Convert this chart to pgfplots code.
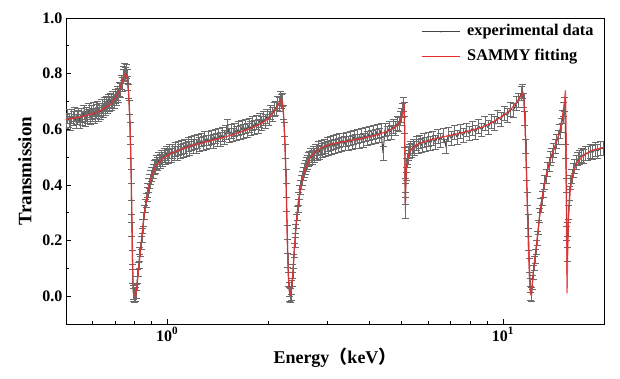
\documentclass[border=0pt]{standalone}
\usepackage{fontspec}
\setmainfont{Liberation Serif}
\newfontfamily\cjk{Noto Sans CJK SC}
\usepackage{pgfplots}
\pgfplotsset{compat=1.18}
\usepackage{pgfplotstable}
\definecolor{fitred}{RGB}{232,45,45}
\definecolor{expgray}{RGB}{68,68,68}

\pgfplotstableread{
E T
0.500 0.628
0.505 0.648
0.510 0.633
0.515 0.622
0.520 0.646
0.525 0.638
0.530 0.655
0.535 0.630
0.540 0.644
0.545 0.652
0.550 0.628
0.555 0.650
0.560 0.641
0.565 0.662
0.570 0.636
0.575 0.655
0.580 0.648
0.585 0.668
0.590 0.642
0.595 0.660
0.600 0.652
0.605 0.672
0.610 0.648
0.615 0.664
0.620 0.676
0.625 0.655
0.630 0.670
0.635 0.662
0.640 0.684
0.645 0.668
0.650 0.690
0.655 0.676
0.660 0.695
0.665 0.682
0.670 0.700
0.675 0.690
0.680 0.705
0.685 0.694
0.690 0.712
0.695 0.702
0.700 0.720
0.705 0.712
0.710 0.730
0.715 0.722
0.720 0.745
0.725 0.740
0.730 0.768
0.735 0.762
0.740 0.790
0.744 0.800
0.748 0.812
0.752 0.798
0.756 0.808
0.760 0.790
0.764 0.765
0.768 0.735
0.772 0.680
0.776 0.600
0.779 0.520
0.782 0.430
0.784 0.320
0.786 0.240
0.788 0.140
0.790 0.070
0.793 0.015
0.797 0.005
0.801 0.002
0.805 0.006
0.809 0.018
0.813 0.045
0.817 0.070
0.821 0.098
0.825 0.125
0.829 0.150
0.833 0.168
0.837 0.192
0.842 0.220
0.847 0.250
0.852 0.278
0.857 0.300
0.862 0.325
0.867 0.345
0.872 0.365
0.877 0.382
0.883 0.398
0.889 0.412
0.895 0.428
0.901 0.438
0.908 0.450
0.915 0.462
0.922 0.468
0.930 0.480
0.938 0.476
0.946 0.492
0.954 0.486
0.962 0.500
0.971 0.492
0.980 0.508
0.989 0.498
0.998 0.514
1.008 0.504
1.018 0.520
1.028 0.508
1.038 0.522
1.049 0.512
1.060 0.528
1.071 0.515
1.082 0.532
1.094 0.520
1.106 0.536
1.118 0.524
1.130 0.540
1.142 0.528
1.155 0.545
1.168 0.532
1.181 0.550
1.194 0.538
1.208 0.552
1.222 0.540
1.236 0.558
1.250 0.545
1.265 0.562
1.280 0.548
1.295 0.566
1.310 0.552
1.326 0.568
1.342 0.555
1.358 0.572
1.374 0.558
1.391 0.575
1.408 0.562
1.425 0.580
1.442 0.565
1.460 0.582
1.478 0.570
1.496 0.588
1.514 0.612
1.533 0.578
1.552 0.592
1.571 0.580
1.590 0.598
1.610 0.585
1.630 0.602
1.650 0.588
1.670 0.606
1.691 0.592
1.712 0.610
1.733 0.596
1.754 0.615
1.776 0.602
1.798 0.620
1.820 0.606
1.843 0.626
1.866 0.612
1.889 0.632
1.912 0.620
1.936 0.640
1.960 0.628
1.984 0.648
2.009 0.640
2.034 0.660
2.059 0.655
2.085 0.672
2.110 0.675
2.135 0.692
2.155 0.690
2.175 0.712
2.190 0.700
2.205 0.706
2.220 0.660
2.235 0.600
2.248 0.520
2.260 0.430
2.270 0.330
2.280 0.230
2.290 0.130
2.300 0.060
2.310 0.025
2.320 0.006
2.330 0.004
2.340 0.012
2.350 0.032
2.360 0.060
2.370 0.088
2.381 0.125
2.392 0.165
2.404 0.200
2.416 0.235
2.428 0.268
2.441 0.298
2.454 0.325
2.468 0.350
2.482 0.372
2.497 0.392
2.512 0.410
2.528 0.425
2.545 0.440
2.562 0.452
2.580 0.462
2.599 0.474
2.618 0.480
2.638 0.492
2.659 0.495
2.680 0.506
2.702 0.500
2.725 0.515
2.749 0.508
2.773 0.522
2.798 0.514
2.824 0.530
2.851 0.518
2.878 0.535
2.906 0.524
2.935 0.540
2.965 0.528
2.995 0.546
3.026 0.532
3.058 0.550
3.091 0.536
3.125 0.554
3.160 0.540
3.195 0.556
3.231 0.542
3.268 0.560
3.306 0.546
3.345 0.562
3.385 0.548
3.426 0.565
3.468 0.550
3.511 0.568
3.555 0.552
3.600 0.572
3.646 0.556
3.693 0.575
3.741 0.558
3.790 0.578
3.840 0.560
3.891 0.582
3.943 0.566
3.996 0.585
4.050 0.570
4.105 0.588
4.161 0.574
4.218 0.592
4.276 0.578
4.335 0.596
4.395 0.515
4.456 0.598
4.518 0.585
4.581 0.602
4.645 0.590
4.710 0.612
4.776 0.602
4.843 0.622
4.900 0.618
4.950 0.640
4.995 0.650
5.030 0.668
5.060 0.690
5.085 0.672
5.100 0.560
5.112 0.400
5.122 0.305
5.133 0.380
5.148 0.440
5.165 0.470
5.185 0.488
5.210 0.500
5.240 0.512
5.275 0.520
5.315 0.530
5.360 0.526
5.410 0.540
5.465 0.532
5.525 0.548
5.590 0.538
5.660 0.555
5.735 0.542
5.815 0.560
5.900 0.546
5.990 0.564
6.085 0.550
6.185 0.568
6.290 0.554
6.400 0.574
6.515 0.560
6.635 0.578
6.760 0.540
6.890 0.582
7.025 0.566
7.165 0.588
7.310 0.572
7.460 0.594
7.615 0.578
7.775 0.598
7.940 0.584
8.110 0.604
8.285 0.590
8.465 0.612
8.650 0.598
8.840 0.620
9.035 0.606
9.235 0.630
9.440 0.620
9.650 0.645
9.865 0.635
10.08 0.658
10.30 0.650
10.52 0.672
10.74 0.668
10.96 0.692
11.15 0.705
11.32 0.728
11.45 0.736
11.55 0.705
11.63 0.640
11.70 0.540
11.76 0.440
11.82 0.350
11.88 0.270
11.94 0.190
12.00 0.110
12.06 0.040
12.12 0.012
12.18 0.008
12.25 0.050
12.32 0.085
12.40 0.118
12.48 0.145
12.57 0.175
12.66 0.208
12.76 0.248
12.86 0.290
12.97 0.328
13.08 0.352
13.20 0.382
13.32 0.408
13.45 0.432
13.58 0.455
13.72 0.475
13.86 0.495
14.00 0.508
14.15 0.525
14.30 0.540
14.46 0.558
14.62 0.572
14.78 0.592
14.94 0.615
15.08 0.645
15.20 0.672
15.30 0.690
15.38 0.520
15.44 0.400
15.50 0.225
15.56 0.150
15.62 0.240
15.70 0.300
15.80 0.370
15.92 0.408
16.05 0.432
16.20 0.452
16.36 0.468
16.54 0.480
16.73 0.494
16.94 0.500
17.16 0.508
17.40 0.504
17.65 0.515
17.92 0.512
18.20 0.522
18.50 0.516
18.82 0.528
19.15 0.522
19.50 0.532
19.90 0.530
}\expdata

\pgfplotstableread{
E T
0.500 0.635
0.530 0.640
0.560 0.646
0.590 0.653
0.620 0.662
0.650 0.675
0.680 0.692
0.700 0.710
0.720 0.738
0.735 0.770
0.745 0.795
0.752 0.800
0.760 0.785
0.768 0.730
0.774 0.650
0.779 0.530
0.783 0.400
0.786 0.280
0.789 0.150
0.792 0.050
0.796 0.005
0.802 0.000
0.808 0.008
0.814 0.040
0.820 0.080
0.828 0.130
0.837 0.185
0.848 0.255
0.862 0.325
0.880 0.390
0.900 0.435
0.930 0.472
0.970 0.495
1.020 0.512
1.100 0.528
1.200 0.543
1.320 0.556
1.450 0.568
1.600 0.584
1.750 0.600
1.900 0.619
2.000 0.638
2.080 0.662
2.140 0.688
2.180 0.705
2.200 0.702
2.220 0.660
2.240 0.570
2.260 0.420
2.275 0.250
2.290 0.110
2.305 0.035
2.320 0.005
2.335 0.005
2.350 0.030
2.370 0.085
2.390 0.160
2.420 0.255
2.460 0.340
2.510 0.405
2.570 0.455
2.660 0.495
2.800 0.525
3.000 0.543
3.300 0.554
3.700 0.564
4.100 0.576
4.500 0.591
4.800 0.610
4.950 0.630
5.040 0.660
5.080 0.680
5.100 0.600
5.120 0.330
5.140 0.420
5.170 0.468
5.220 0.500
5.330 0.528
5.600 0.548
6.000 0.560
6.600 0.572
7.400 0.585
8.000 0.595
8.700 0.608
9.400 0.628
10.00 0.648
10.60 0.674
11.00 0.698
11.30 0.720
11.45 0.730
11.55 0.700
11.65 0.600
11.75 0.450
11.83 0.300
11.92 0.160
12.00 0.060
12.08 0.005
12.15 0.005
12.25 0.055
12.40 0.120
12.55 0.172
12.75 0.245
12.95 0.318
13.20 0.382
13.50 0.442
13.80 0.490
14.25 0.535
14.75 0.590
15.05 0.648
15.25 0.700
15.35 0.740
15.42 0.600
15.47 0.250
15.52 0.010
15.58 0.150
15.68 0.290
15.85 0.375
16.10 0.432
16.55 0.476
17.30 0.505
18.50 0.525
20.00 0.535
}\fitdata

\begin{document}
\begin{tikzpicture}
\begin{axis}[
  xmode=log, log basis x=10,
  scale only axis, width=538bp, height=306bp,
  xmin=0.5, xmax=20, ymin=-0.1, ymax=1.0,
  xtick={1,10}, xticklabels={10\textsuperscript{0},10\textsuperscript{1}},
  minor xtick={0.6,0.7,0.8,0.9,2,3,4,5,6,7,8,9},
  ytick={0,0.2,0.4,0.6,0.8,1.0},
  minor ytick={-0.1,0.1,0.3,0.5,0.7,0.9},
  xtick pos=bottom, ytick pos=left, tick align=inside,
  major tick length=5bp, minor tick length=3.5bp,
  axis line style={line width=0.9pt},
  every tick/.style={black, line width=0.8pt},
  tick label style={font=\fontsize{16bp}{19bp}\selectfont\bfseries},
  yticklabel style={/pgf/number format/.cd, fixed, fixed zerofill, precision=1, assume math mode=true},
  xlabel={Energy{\cjk （}keV{\cjk ）}},
  ylabel={Transmission},
  ylabel shift=4bp,
  xlabel style={font=\fontsize{18bp}{21bp}\selectfont\bfseries},
  ylabel style={font=\fontsize{19bp}{22bp}\selectfont\bfseries},
]
\addplot[expgray, line width=1pt, mark=none,
  error bars/.cd, y dir=both, y fixed=0.025,
  error bar style={black!58, line width=0.6pt},
  error mark options={rotate=90, black!58, mark size=3.5bp, line width=0.6pt}]
  table[x=E,y=T]{\expdata};
\addplot[fitred, opacity=0.85, line width=1.3pt, mark=none]
  table[x=E,y=T]{\fitdata};
% legend
\draw[expgray, line width=1pt] (rel axis cs:0.6617,0.955) -- ++(38bp,0bp);
\fill[expgray] ([xshift=19bp]rel axis cs:0.6617,0.955) circle (0.9pt);
\node[anchor=west, inner sep=0pt, font=\fontsize{16.3bp}{19bp}\selectfont\bfseries]
  at (rel axis cs:0.7454,0.955) {experimental data};
\draw[fitred, line width=1.2pt] (rel axis cs:0.6617,0.873) -- ++(38bp,0bp);
\node[anchor=west, inner sep=0pt, font=\fontsize{16.3bp}{19bp}\selectfont\bfseries]
  at (rel axis cs:0.7454,0.873) {SAMMY fitting};
\coordinate (sw) at (rel axis cs:0,0);
\coordinate (ne) at (rel axis cs:1,1);
\end{axis}
\path ([shift={(-66bp,-55bp)}]sw) rectangle ([shift={(16bp,18bp)}]ne);
\end{tikzpicture}
\end{document}
